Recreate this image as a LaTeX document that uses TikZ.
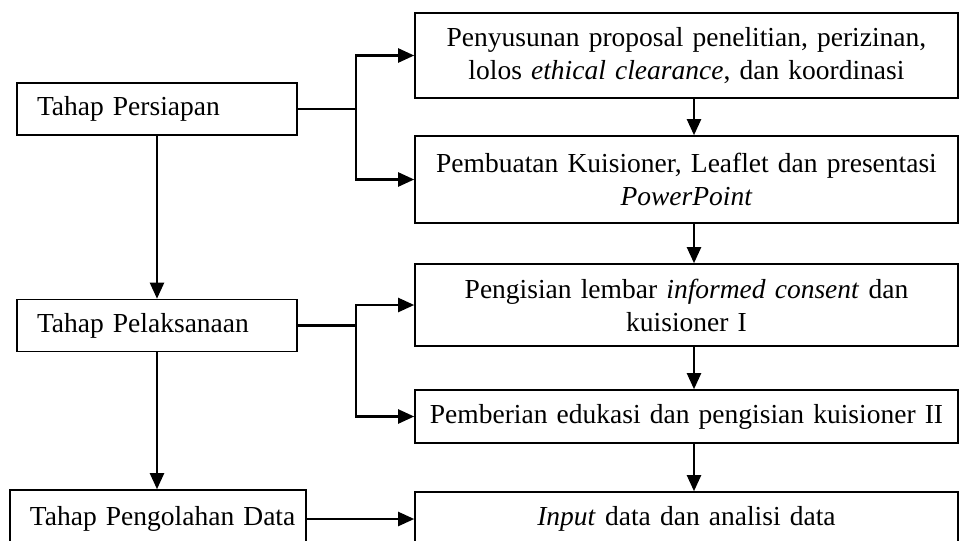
\documentclass[tikz,border=0pt]{standalone}
\usepackage{fontspec}
\setmainfont{Liberation Serif}
\usetikzlibrary{arrows.meta}

\begin{document}
\begin{tikzpicture}[x=1pt,y=-1pt,font=\fontsize{27.5}{33}\selectfont,
    stage/.style={draw,line width=1.6pt,align=left,text width=240pt,inner xsep=20pt,minimum height=52pt},
    task/.style={draw,line width=1.6pt,align=center,text width=523pt,inner xsep=10pt},
    tip/.style={-{Triangle[length=16pt,width=14pt]},line width=2.2pt}]
    \useasboundingbox (0,0) rectangle (962,541);
		\node[stage] (P1) at (157,109) {Tahap Persiapan};
		\node[stage] (P2) at (157,325.5) {Tahap Pelaksanaan};
		\node[stage,text width=256pt,minimum height=58pt] (P3) at (158,519) {\mbox{Tahap Pengolahan Data}};
		\node[task,minimum height=85pt] (B1) at (686.5,55.5) {Penyusunan proposal penelitian, perizinan,\\ lolos \textit{ethical clearance}, dan koordinasi};
		\node[task,minimum height=87pt] (B2) at (686.5,179.5) {Pembuatan Kuisioner, Leaflet dan presentasi\\ \textit{PowerPoint}};
		\node[task,minimum height=82pt] (B3) at (686.5,305) {Pengisian lembar \textit{informed consent} dan\\ kuisioner I};
		\node[task,minimum height=53pt] (B4) at (686.5,416.5) {Pemberian edukasi dan pengisian kuisioner II};
		\node[task,minimum height=54pt] (B5) at (686.5,519) {\textit{Input} data dan analisi data};
		\coordinate (J1) at (356,109);
		\coordinate (J2) at (356,325.5);
        \draw [tip] (P1) -- (P2);
		\draw [tip] (P2.south) -- (P2.south |- P3.north);
		\draw [tip] (P1.east) -- (J1) |- (B1.west);
		\draw [tip] (J1) |- (B2.west);
		\draw [tip] (P2.east) -- (J2) |- (B3.west);
		\draw [tip] (J2) |- (B4.west);
		\draw [tip] (P3.east) -- (B5.west);
		\draw [tip] ([xshift=7.5pt]B1.south) -- ([xshift=7.5pt]B2.north);
		\draw [tip] ([xshift=7.5pt]B2.south) -- ([xshift=7.5pt]B3.north);
		\draw [tip] ([xshift=7.5pt]B3.south) -- ([xshift=7.5pt]B4.north);
		\draw [tip] ([xshift=7.5pt]B4.south) -- ([xshift=7.5pt]B5.north);
    \end{tikzpicture}
\end{document}
